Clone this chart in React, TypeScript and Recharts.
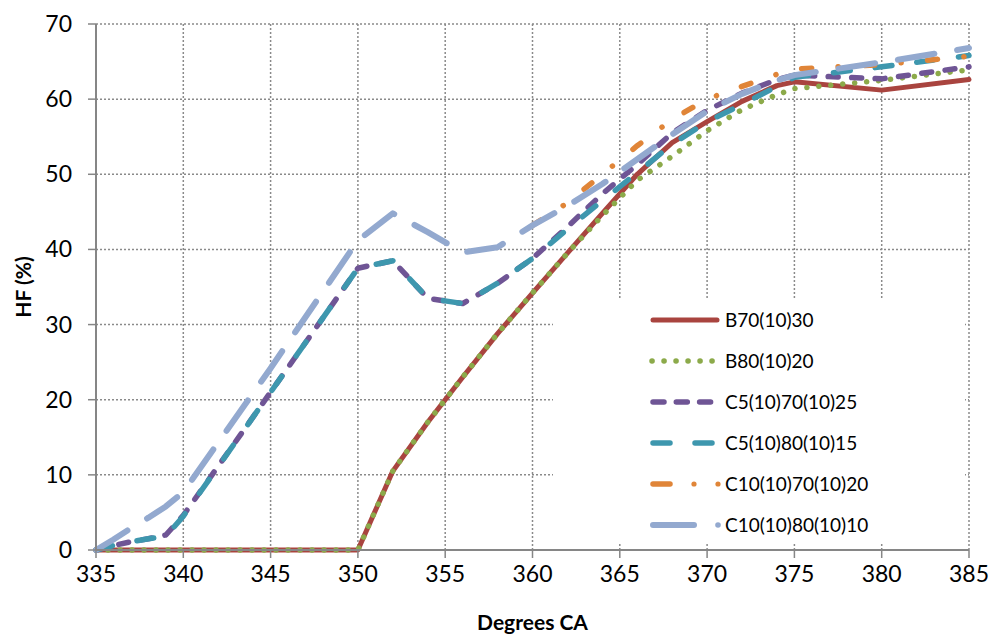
import React from 'react';
import { LineChart, Line, XAxis, YAxis, CartesianGrid, Legend } from 'recharts';

// Degrees CA (x categories)
const degreesCA = [335, 336, 337, 338, 339, 340, 345, 350, 352, 354, 356, 358, 360, 362, 364, 366, 368, 370, 372, 374, 375, 380, 385];

// HF (%) series values
const b70_10_30 = [0, 0, 0, 0, 0, 0, 0, 0, 10.5, 17, 23, 28.8, 34.2, 39.5, 44.8, 50, 54.2, 57, 59.7, 61.8, 62.3, 61.2, 62.6];
const b80_10_20 = [0, 0, 0, 0, 0, 0, 0, 0, 10.5, 17, 23, 28.8, 34.2, 39.5, 44.5, 49.2, 52.4, 55.8, 58.6, 60.6, 61.4, 62.5, 63.9];
const c5_70_25 = [0, 0.6, 1.1, 1.5, 2, 4.6, 21, 37.5, 38.5, 33.5, 32.8, 35.5, 38.8, 43, 47.4, 51.3, 55.5, 58.5, 60.8, 62.6, 63.2, 62.7, 64.3];
const c5_80_15 = [0, 0.6, 1.1, 1.5, 1.8, 4.5, 21, 37.5, 38.5, 33.5, 32.8, 35.5, 38.8, 42.7, 46.5, 50.2, 54, 57, 59.3, 61.7, 62.9, 64.3, 65.8];
const c10_70_20 = [null, null, null, null, null, null, null, null, null, null, null, null, 43.2, 46.2, 50, 53.8, 57.3, 60, 61.7, 63.3, 64, 64.6, 65.7];
const c10_80_10 = [0, 1.4, 2.9, 4.3, 5.8, 7.7, 24.2, 41.2, 44.8, 42.3, 39.6, 40.3, 43.2, 45.8, 48.7, 52, 55.3, 58.4, 60.7, 62.5, 63.2, 64.9, 66.8];

const seriesNames = ['B70(10)30', 'B80(10)20', 'C5(10)70(10)25', 'C5(10)80(10)15', 'C10(10)70(10)20', 'C10(10)80(10)10'];

// Tick labels
const xTicks = [335, 340, 345, 350, 355, 360, 365, 370, 375, 380, 385];
const yTicks = [0, 10, 20, 30, 40, 50, 60, 70];

const data = degreesCA.map((x, i) => ({
  x,
  s0: b70_10_30[i],
  s1: b80_10_20[i],
  s2: c5_70_25[i],
  s3: c5_80_15[i],
  s4: c10_70_20[i],
  s5: c10_80_10[i],
}));

const series = [
  { key: 's0', name: seriesNames[0], color: '#A9443F', width: 5, dash: undefined, kind: 'solid' },
  { key: 's1', name: seriesNames[1], color: '#8CAA4A', width: 5.5, dash: '0.1 11.9', kind: 'dots' },
  { key: 's2', name: seriesNames[2], color: '#6F5595', width: 5.5, dash: '10 13.5', kind: 'dash' },
  { key: 's3', name: seriesNames[3], color: '#3E97AE', width: 5.5, dash: '17 25', kind: 'longdash' },
  { key: 's4', name: seriesNames[4], color: '#E08538', width: 5.5, dash: '10 26.5 0.1 26.5', kind: 'dashdotdot' },
  { key: 's5', name: seriesNames[5], color: '#93A9CF', width: 6, dash: '37 23', kind: 'longdashdot' },
];

const FONT = 'Lato, "Open Sans", sans-serif';

const XTick = (props: any) => {
  const { x, y, payload } = props;
  return (
    <text x={x} y={y + 24} textAnchor="middle" fontFamily={FONT} fontSize={23} fill="#000">
      {payload.value}
    </text>
  );
};

const YTick = (props: any) => {
  const { x, y, payload } = props;
  return (
    <text x={x} y={y + 8} textAnchor="end" fontFamily={FONT} fontSize={23} fill="#000">
      {payload.value}
    </text>
  );
};

const LegendSample = ({ s }: { s: any }) => {
  const cy = 7;
  const common = { stroke: s.color, strokeWidth: s.width, strokeLinecap: 'round' as const, fill: 'none' };
  let el: React.ReactNode = null;
  if (s.kind === 'solid') el = <line x1={3} y1={cy} x2={67} y2={cy} {...common} />;
  else if (s.kind === 'dots') el = <line x1={2} y1={cy} x2={64} y2={cy} {...common} strokeDasharray="0.1 11.9" />;
  else if (s.kind === 'dash') el = <line x1={3} y1={cy} x2={62} y2={cy} {...common} strokeDasharray="11 12.3" />;
  else if (s.kind === 'longdash') el = <line x1={3} y1={cy} x2={63} y2={cy} {...common} strokeDasharray="17 25" />;
  else if (s.kind === 'dashdotdot')
    el = (
      <g>
        <line x1={3} y1={cy} x2={20} y2={cy} {...common} />
        <circle cx={44} cy={cy} r={2.6} fill={s.color} />
        <circle cx={68} cy={cy} r={2.6} fill={s.color} />
      </g>
    );
  else
    el = (
      <g>
        <line x1={3} y1={cy} x2={44} y2={cy} {...common} />
        <circle cx={68} cy={cy} r={2.8} fill={s.color} />
      </g>
    );
  return (
    <svg width={72} height={14} style={{ display: 'block', overflow: 'visible' }}>
      {el}
    </svg>
  );
};

const LegendBox = () => (
  <div style={{ width: '100%', height: '100%', background: '#fff', position: 'relative' }}>
    {series.map((s, i) => (
      <div
        key={s.key}
        style={{
          position: 'absolute',
          left: 97,
          top: 20 + i * 41 - 7,
          display: 'flex',
          alignItems: 'center',
          height: 14,
        }}
      >
        <LegendSample s={s} />
        <span
          style={{
            fontFamily: FONT,
            fontSize: 19,
            color: '#000',
            marginLeft: 3,
            whiteSpace: 'nowrap',
            lineHeight: '14px',
          }}
        >
          {s.name}
        </span>
      </div>
    ))}
  </div>
);

export default function App() {
  return (
    <div style={{ position: 'absolute', left: 0, top: 0, width: 991, height: 637, background: '#fff' }}>
      <LineChart width={991} height={637} data={data} margin={{ top: 24, right: 22, left: 0, bottom: 0 }}>
        <CartesianGrid stroke="#8a8a8a" strokeWidth={1.5} strokeDasharray="2 2" />
        <XAxis
          dataKey="x"
          type="number"
          domain={[335, 385]}
          ticks={xTicks}
          height={87}
          tickSize={8}
          tickMargin={0}
          stroke="#868686"
          axisLine={{ stroke: '#868686', strokeWidth: 2 }}
          tickLine={{ stroke: '#868686', strokeWidth: 1.5 }}
          tick={<XTick />}
          interval={0}
          label={(props: any) => {
            const vb = props.viewBox || {};
            const cx = (vb.x ?? 96) + (vb.width ?? 873) / 2;
            return (
              <text x={cx} y={630} textAnchor="middle" fontFamily={FONT} fontWeight="bold" fontSize={21} fill="#000">
                Degrees CA
              </text>
            );
          }}
        />
        <YAxis
          type="number"
          domain={[0, 70]}
          ticks={yTicks}
          width={96}
          tickSize={8}
          tickMargin={16}
          axisLine={{ stroke: '#868686', strokeWidth: 2 }}
          tickLine={{ stroke: '#868686', strokeWidth: 1.5 }}
          tick={<YTick />}
          interval={0}
          label={(props: any) => {
            const vb = props.viewBox || {};
            const cy = (vb.y ?? 24) + (vb.height ?? 526) / 2;
            const x = 31;
            return (
              <text
                x={x}
                y={cy}
                transform={`rotate(-90 ${x} ${cy})`}
                textAnchor="middle"
                fontFamily={FONT}
                fontWeight="bold"
                fontSize={21}
                fill="#000"
              >
                HF (%)
              </text>
            );
          }}
        />
        <Legend
          layout="vertical"
          align="center"
          verticalAlign="middle"
          content={() => <LegendBox />}
          wrapperStyle={{ left: 553, top: 300, width: 412, height: 244, background: '#fff' }}
        />
        {series.map((s) => (
          <Line
            key={s.key}
            type="linear"
            dataKey={s.key}
            name={s.name}
            stroke={s.color}
            strokeWidth={s.width}
            strokeDasharray={s.dash}
            strokeLinecap="round"
            strokeLinejoin="round"
            dot={false}
            activeDot={false}
            isAnimationActive={false}
            connectNulls={false}
          />
        ))}
      </LineChart>
    </div>
  );
}
